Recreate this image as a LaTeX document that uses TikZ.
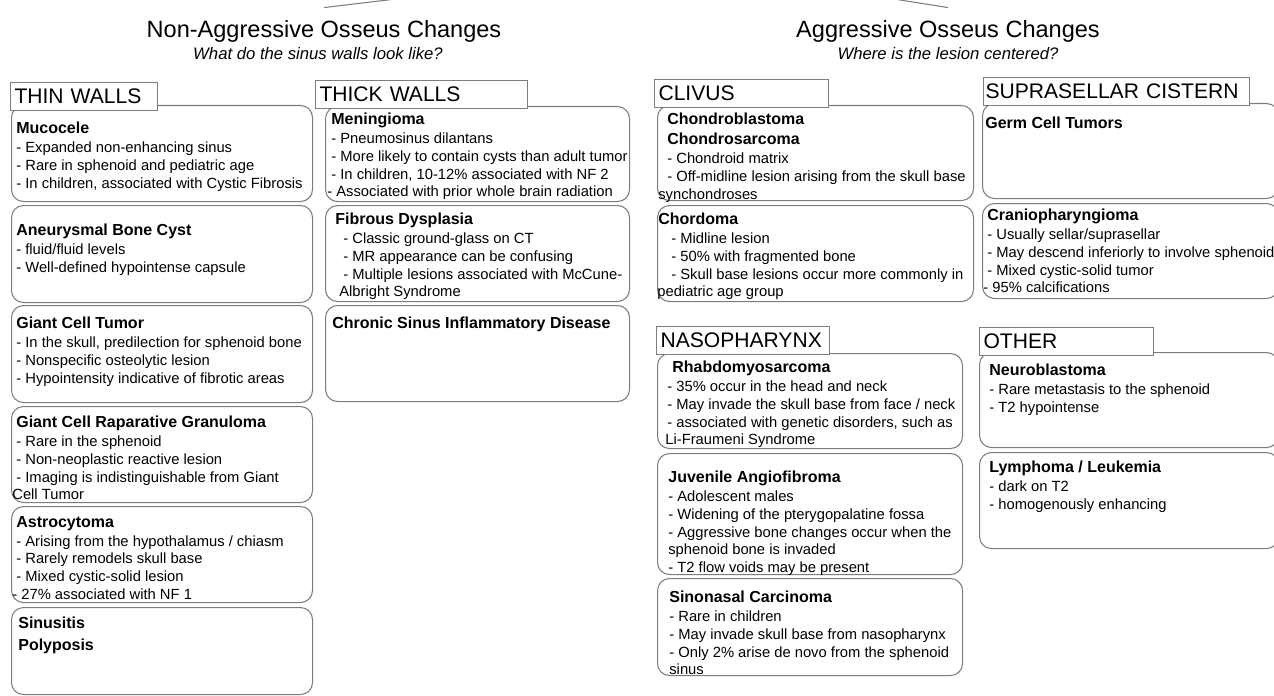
\documentclass[tikz,border=0pt]{standalone}
\usepackage{fontspec}
\setmainfont{Liberation Sans}
\usepackage{tikz}
\usepackage{xcolor}
\definecolor{cLine}{RGB}{125,125,125}
\newlength{\unitpx}
\setlength{\unitpx}{0.02cm}
\newcommand{\fTitle}{\fontsize{13.4}{16}\selectfont}
\newcommand{\fSub}{\fontsize{9.5}{11.5}\selectfont\itshape}
\newcommand{\fHdr}{\fontsize{12}{14}\selectfont}
\newcommand{\fHead}{\fontsize{9.1}{11}\selectfont\bfseries}
\newcommand{\fItem}{\fontsize{8.4}{10}\selectfont}
\tikzset{
  itembox/.style={rectangle, rounded corners=12\unitpx, draw=cLine,
                  line width=0.6pt, anchor=north west, inner sep=0pt},
  hdrbox/.style={rectangle, draw=cLine, line width=0.6pt, fill=white,
                 anchor=north west, align=left, inner xsep=4\unitpx,
                 inner ysep=0pt, minimum height=28\unitpx, font=\fHdr},
  itemtext/.style={anchor=north west, align=left, inner sep=0pt,
                   font=\fItem},
  ttlnode/.style={anchor=base, inner xsep=0pt, inner ysep=7.4pt,
                  font=\fTitle},
  subnode/.style={anchor=base, inner sep=0pt, font=\fSub},
  link/.style={draw=cLine, line width=0.6pt}
}
\begin{document}
\begin{tikzpicture}[x=0.02cm, y=-0.02cm]
  \useasboundingbox (0,0) rectangle (1274,696);
  \clip (0,0) rectangle (1274,696);

  % Titles
  \node[ttlnode] (ttlL) at (324,38) {Non-Aggressive Osseus Changes};
  \node[subnode] (subL) at (318,60) {What do the sinus walls look like?};
  \node[ttlnode] (ttlR) at (948,38) {Aggressive Osseus Changes};
  \node[subnode] (subR) at (948,60) {Where is the lesion centered?};
  \coordinate (root) at (680,-35);
  \draw[link] (ttlL.north) -- (root);
  \draw[link] (ttlR.north) -- (root);

  % Boxes
  \node[itembox, minimum width=301\unitpx, minimum height=96\unitpx]  (muco)    at (11,105) {};
  \node[itembox, minimum width=301\unitpx, minimum height=97\unitpx]  (abc)     at (11,205) {};
  \node[itembox, minimum width=301\unitpx, minimum height=97\unitpx]  (gct)     at (11,305) {};
  \node[itembox, minimum width=301\unitpx, minimum height=96\unitpx]  (gcrg)    at (11,406) {};
  \node[itembox, minimum width=301\unitpx, minimum height=96\unitpx]  (astro)   at (11,506) {};
  \node[itembox, minimum width=301\unitpx, minimum height=87\unitpx]  (sinus)   at (11,607) {};
  \node[itembox, minimum width=304\unitpx, minimum height=95\unitpx]  (mening)  at (325,106) {};
  \node[itembox, minimum width=304\unitpx, minimum height=96\unitpx]  (fibro)   at (325,205) {};
  \node[itembox, minimum width=304\unitpx, minimum height=96\unitpx]  (csid)    at (325,305) {};
  \node[itembox, minimum width=316\unitpx, minimum height=95\unitpx]  (chondro) at (657,105) {};
  \node[itembox, minimum width=316\unitpx, minimum height=96\unitpx]  (chord)   at (657,205) {};
  \node[itembox, minimum width=305\unitpx, minimum height=95\unitpx]  (rhabdo)  at (657,353) {};
  \node[itembox, minimum width=305\unitpx, minimum height=121\unitpx] (jna)     at (657,453) {};
  \node[itembox, minimum width=305\unitpx, minimum height=97\unitpx]  (snc)     at (657,578) {};
  \node[itembox, minimum width=296\unitpx, minimum height=95\unitpx]  (germ)    at (982,103) {};
  \node[itembox, minimum width=296\unitpx, minimum height=95\unitpx]  (cranio)  at (982,203) {};
  \node[itembox, minimum width=299\unitpx, minimum height=95\unitpx]  (neuro)   at (979,352) {};
  \node[itembox, minimum width=299\unitpx, minimum height=96\unitpx]  (lymph)   at (979,452) {};

  % Headers
  \node[hdrbox, text width=139\unitpx] (hThin)   at (10,82)   {THIN WALLS};
  \node[hdrbox, text width=204\unitpx] (hThick)  at (315,80)  {THICK WALLS};
  \node[hdrbox, text width=166\unitpx] (hClivus) at (654,79)  {CLIVUS};
  \node[hdrbox, text width=262\unitpx, inner xsep=2\unitpx] (hSupra) at (983,77) {SUPRASELLAR CISTERN};
  \node[hdrbox, text width=165\unitpx] (hNaso)   at (656,326) {NASOPHARYNX};
  \node[hdrbox, text width=166\unitpx] (hOther)  at (979,327) {OTHER};

  % Texts, thin walls
  \node[itemtext] (tMuco) at (16,122) {{\fHead Mucocele}\\[0.8pt]
    - Expanded non-enhancing sinus\\
    - Rare in sphenoid and pediatric age\\
    - In children, associated with Cystic Fibrosis};
  \node[itemtext] (tAbc) at (16,224) {{\fHead Aneurysmal Bone Cyst}\\[0.8pt]
    - fluid/fluid levels\\
    - Well-defined hypointense capsule};
  \node[itemtext] (tGct) at (16,317) {{\fHead Giant Cell Tumor}\\[0.8pt]
    - In the skull, predilection for sphenoid bone\\
    - Nonspecific osteolytic lesion\\
    - Hypointensity indicative of fibrotic areas};
  \node[itemtext] (tGcrg) at (16,416) {{\fHead Giant Cell Raparative Granuloma}\\[0.8pt]
    - Rare in the sphenoid\\
    - Non-neoplastic reactive lesion\\
    - Imaging is indistinguishable from Giant\\
    \hspace*{-4\unitpx}Cell Tumor};
  \node[itemtext] (tAstro) at (16,516) {{\fHead Astrocytoma}\\[0.8pt]
    - Arising from the hypothalamus / chiasm\\
    - Rarely remodels skull base\\
    - Mixed cystic-solid lesion\\
    \hspace*{-4\unitpx}- 27\% associated with NF 1};
  \node[itemtext] (tSinus) at (18,617) {{\fHead Sinusitis}\\[2pt]
    {\fHead Polyposis}};

  % Texts, thick walls
  \node[itemtext] (tMening) at (331,113) {{\fHead Meningioma}\\[0.8pt]
    - Pneumosinus dilantans\\
    - More likely to contain cysts than adult tumor\\
    - In children, 10-12\% associated with NF 2\\
    \hspace*{-4\unitpx}- Associated with prior whole brain radiation};
  \node[itemtext] (tFibro) at (335,213) {{\fHead Fibrous Dysplasia}\\[0.8pt]
    \hspace*{8\unitpx}- Classic ground-glass on CT\\
    \hspace*{8\unitpx}- MR appearance can be confusing\\
    \hspace*{8\unitpx}- Multiple lesions associated with McCune-\\
    \hspace*{4\unitpx}Albright Syndrome};
  \node[itemtext] (tCsid) at (332,317) {{\fHead Chronic Sinus Inflammatory Disease}};

  % Texts, clivus
  \node[itemtext] (tChondro) at (667,113) {{\fHead Chondroblastoma}\\[1.4pt]
    {\fHead Chondrosarcoma}\\[0.8pt]
    - Chondroid matrix\\
    - Off-midline lesion arising from the skull base\\
    \hspace*{-9\unitpx}synchondroses};
  \node[itemtext] (tChord) at (658,213) {{\fHead Chordoma}\\[0.8pt]
    \hspace*{13\unitpx}- Midline lesion\\
    \hspace*{13\unitpx}- 50\% with fragmented bone\\
    \hspace*{13\unitpx}- Skull base lesions occur more commonly in\\
    \hspace*{-1\unitpx}pediatric age group};

  % Texts, suprasellar cistern
  \node[itemtext] (tGerm) at (985,117) {{\fHead Germ Cell Tumors}};
  \node[itemtext] (tCranio) at (987,209) {{\fHead Craniopharyngioma}\\[0.8pt]
    - Usually sellar/suprasellar\\
    - May descend inferiorly to involve sphenoid\\
    - Mixed cystic-solid tumor\\
    \hspace*{-4\unitpx}- 95\% calcifications};

  % Texts, nasopharynx
  \node[itemtext] (tRhabdo) at (672,361) {{\fHead Rhabdomyosarcoma}\\[0.8pt]
    \hspace*{-5\unitpx}- 35\% occur in the head and neck\\
    \hspace*{-5\unitpx}- May invade the skull base from face / neck\\
    \hspace*{-5\unitpx}- associated with genetic disorders, such as\\
    \hspace*{-7\unitpx}Li-Fraumeni Syndrome};
  \node[itemtext] (tJna) at (668,471) {{\fHead Juvenile Angiofibroma}\\[0.8pt]
    - Adolescent males\\
    - Widening of the pterygopalatine fossa\\
    - Aggressive bone changes occur when the\\
    sphenoid bone is invaded\\
    - T2 flow voids may be present};
  \node[itemtext] (tSnc) at (669,591) {{\fHead Sinonasal Carcinoma}\\[0.8pt]
    - Rare in children\\
    - May invade skull base from nasopharynx\\
    - Only 2\% arise de novo from the sphenoid\\
    sinus};

  % Texts, other
  \node[itemtext] (tNeuro) at (989,364) {{\fHead Neuroblastoma}\\[0.8pt]
    - Rare metastasis to the sphenoid\\
    - T2 hypointense};
  \node[itemtext] (tLymph) at (989,461) {{\fHead Lymphoma / Leukemia}\\[0.8pt]
    - dark on T2\\
    - homogenously enhancing};
\end{tikzpicture}
\end{document}
